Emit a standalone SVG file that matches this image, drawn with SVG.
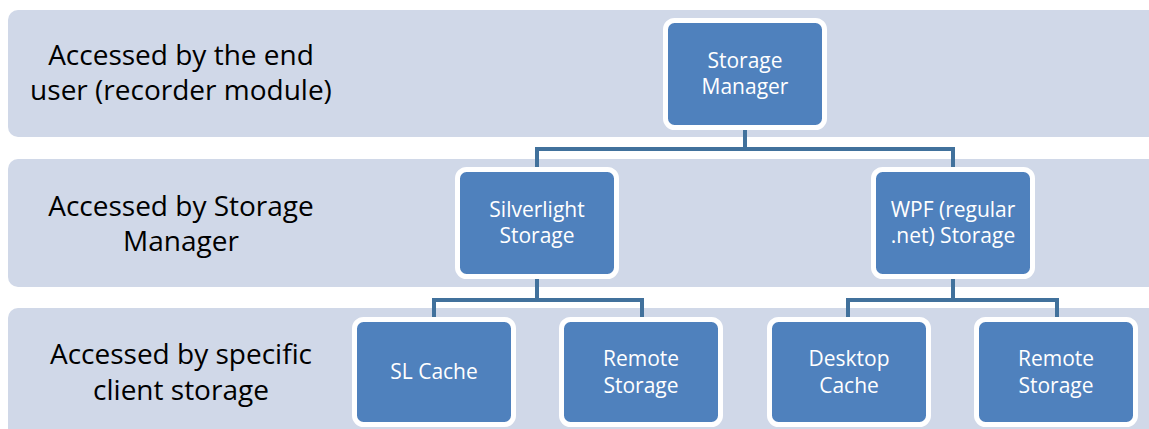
<svg xmlns="http://www.w3.org/2000/svg" width="1149" height="429" viewBox="0 0 1149 429">
<style>
.band{fill:#D0D8E8}
.node rect{fill:#4F81BD;stroke:#FFFFFF;stroke-width:5}
.node text{fill:#FFFFFF;font-family:"Open Sans","Liberation Sans",sans-serif;font-size:21px;text-anchor:middle}
.lbl{fill:#000000;font-family:"Open Sans","Liberation Sans",sans-serif;font-size:28px;text-anchor:middle}
.conn path{fill:none;stroke:#41719C;stroke-width:4}
</style>
<rect width="1149" height="429" fill="#FFFFFF"/>
<g id="bands">
<rect class="band" x="8" y="10" width="1160" height="127" rx="10"/>
<rect class="band" x="8" y="159" width="1160" height="128" rx="10"/>
<rect class="band" x="8" y="308" width="1160" height="135" rx="10"/>
</g>
<g id="labels">
<text class="lbl" x="181" y="65">Accessed by the end</text>
<text class="lbl" x="181" y="100">user (recorder module)</text>
<text class="lbl" x="181" y="216">Accessed by Storage</text>
<text class="lbl" x="181" y="251">Manager</text>
<text class="lbl" x="181" y="364">Accessed by specific</text>
<text class="lbl" x="181" y="400">client storage</text>
</g>
<g id="connectors" class="conn">
<path d="M745,129 V149 M537,149 H953 M537,147 V168 M953,147 V168"/>
<path d="M537,278 V300 M434,300 H642 M434,298 V317 M642,298 V317"/>
<path d="M953,278 V300 M848,300 H1057 M848,298 V317 M1057,298 V317"/>
</g>
<g id="storage-manager" class="node">
<rect x="665.5" y="20.5" width="159" height="107" rx="9"/>
<text x="745" y="68">Storage</text>
<text x="745" y="94">Manager</text>
</g>
<g id="silverlight-storage" class="node">
<rect x="457.5" y="169.5" width="159" height="107" rx="9"/>
<text x="537" y="217">Silverlight</text>
<text x="537" y="243">Storage</text>
</g>
<g id="wpf-storage" class="node">
<rect x="873.5" y="169.5" width="159" height="107" rx="9"/>
<text x="953" y="217">WPF (regular</text>
<text x="953" y="243">.net) Storage</text>
</g>
<g id="sl-cache" class="node">
<rect x="354.5" y="319.5" width="159" height="105" rx="9"/>
<text x="434" y="379">SL Cache</text>
</g>
<g id="remote-storage-1" class="node">
<rect x="561.5" y="319.5" width="159" height="105" rx="9"/>
<text x="641" y="366">Remote</text>
<text x="641" y="393">Storage</text>
</g>
<g id="desktop-cache" class="node">
<rect x="769.5" y="319.5" width="159" height="105" rx="9"/>
<text x="849" y="366">Desktop</text>
<text x="849" y="393">Cache</text>
</g>
<g id="remote-storage-2" class="node">
<rect x="976.5" y="319.5" width="159" height="105" rx="9"/>
<text x="1056" y="366">Remote</text>
<text x="1056" y="393">Storage</text>
</g>
</svg>
